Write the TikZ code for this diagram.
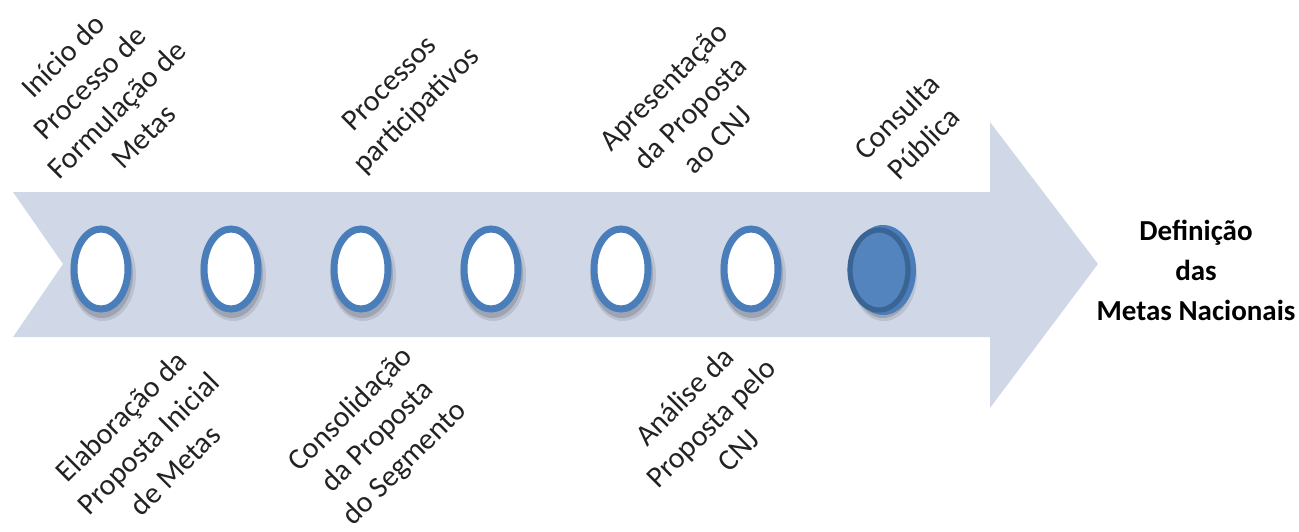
\documentclass[tikz,border=0pt]{standalone}
\usepackage{fontspec}
\setmainfont{Carlito}
\usetikzlibrary{shapes.geometric}
\definecolor{arrowfill}{HTML}{D0D8E8}
\definecolor{ringblue}{HTML}{4A7EBB}
\definecolor{darkring}{HTML}{3A6494}
\definecolor{txt}{HTML}{222222}
\tikzset{
  ring/.style={ellipse, draw=ringblue, line width=3.5pt, fill=white,
    minimum width=27pt, minimum height=40pt, inner sep=0pt},
  fullring/.style={ellipse, draw=darkring, line width=2.6pt, fill=ringblue!95!white,
    minimum width=29pt, minimum height=40pt, inner sep=0pt},
  lbl/.style={rotate=45, align=center, inner sep=0pt, text=txt,
    font=\fontsize{15}{19}\selectfont},
  endlbl/.style={align=center, inner sep=0pt, text=black,
    font=\fontsize{14.5}{20}\selectfont\bfseries}
}
\begin{document}
\begin{tikzpicture}[x=0.5pt,y=-0.5pt]
\useasboundingbox (0,0) rectangle (1299,531);
% big arrow
\fill[arrowfill] (13,192) -- (990,192) -- (990,122) -- (1098,264) -- (990,408)
  -- (990,337) -- (13,337) -- (63,264) -- cycle;
% shadows
\foreach \x in {101,231,361,491,621,751,882}{
  \fill[black,opacity=0.10] (\x+2,275) ellipse [x radius=33, y radius=46];
  \fill[black,opacity=0.15] (\x+1,274) ellipse [x radius=31, y radius=44];
}
% rings
\foreach \i/\x in {1/101,2/231,3/361,4/491,5/621,6/751}{
  \node[ring] (c\i) at (\x,269) {};
}
\fill[ringblue] (883,270) ellipse [x radius=33, y radius=45];
\node[fullring] (c7) at (879,270) {};
% top labels
\node[lbl] (t1) at (103,96) {Início do\\Processo de\\Formulação de\\Metas};
\node[lbl] (t2) at (404,98) {Processos\\participativos};
\node[lbl] (t3) at (690,113) {Apresentação\\da Proposta\\ao CNJ};
\node[lbl] (t4) at (910,130) {Consulta\\Pública};
% bottom labels
\node[lbl] (b1) at (148,443) {Elaboração da\\Proposta Inicial\\de Metas};
\node[lbl] (b2) at (378,437) {Consolidação\\da Proposta\\do Segmento};
\node[lbl] (b3) at (711,423) {Análise da\\Proposta pelo\\CNJ};
% end label
\node[endlbl] (fim) at (1196,270) {Definição\\das\\Metas Nacionais};
\end{tikzpicture}
\end{document}
